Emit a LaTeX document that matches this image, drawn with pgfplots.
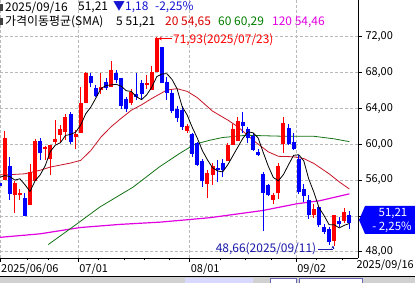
\documentclass[border=0pt]{standalone}
\usepackage{pgfplots}
\pgfplotsset{compat=1.18}
\usepackage{pgfplotstable}
\usepackage{fontspec}
\setmainfont{Noto Sans CJK KR}
\usetikzlibrary{arrows.meta}
\definecolor{cup}{RGB}{255,0,0}
\definecolor{cdn}{RGB}{0,0,255}
\definecolor{ma20}{RGB}{200,20,40}
\definecolor{ma60}{RGB}{20,115,20}
\definecolor{ma120}{RGB}{225,0,225}
\definecolor{gridc}{RGB}{185,185,185}
\definecolor{navy}{RGB}{25,25,170}
\definecolor{hblue}{RGB}{20,20,210}
\definecolor{hgreen}{RGB}{0,128,0}

\pgfplotstableread{
i o h l c
1 56.05 61.5 56.0 60.75
3 54.3 55.95 52.3 55.65
4 54.3 55.05 53.75 54.6
6 53.2 57.8 53.2 56.95
7 55.9 60.6 55.9 60.35
9 59.5 59.8 58.2 59.7
10 58.3 59.9 56.55 59.9
11 60.3 62.7 60.0 60.55
12 61.05 62.1 60.1 61.7
13 61.35 63.4 60.45 63.05
15 60.8 61.55 59.5 61.1
16 61.2 66.35 61.2 64.6
17 64.6 68.05 64.6 67.95
20 66.1 67.9 65.6 66.4
22 66.35 69.3 66.35 68.3
26 64.6 66.2 64.35 65.85
29 66.6 67.7 66.2 66.85
30 66.1 68.7 66.1 68.1
31 68.1 71.93 68.1 71.85
37 61.5 62.3 61.25 62.0
41 55.6 57.1 53.95 56.8
42 56.6 57.9 55.5 57.6
45 58.1 60.1 58.1 59.9
46 59.9 62.25 59.9 61.75
47 60.35 63.05 60.35 62.6
54 53.8 54.5 53.3 54.3
55 54.5 57.85 53.9 57.6
56 60.0 63.05 59.0 62.35
62 52.05 53.3 51.8 52.8
66 49.25 52.15 48.66 52.05
68 51.45 52.9 51.2 52.39
}\up

\pgfplotstableread{
i o h l c
0 55.7 55.9 55.0 55.3
2 57.6 58.6 53.8 54.4
5 54.0 54.55 52.0 52.0
8 60.4 60.65 58.2 59.0
14 63.35 63.6 60.0 60.3
18 67.6 67.9 66.4 66.8
19 66.25 66.6 65.3 65.35
21 67.0 67.35 66.0 66.25
23 67.9 68.3 66.85 67.15
24 67.35 67.35 63.9 64.25
25 65.0 65.3 63.6 63.9
27 65.65 67.95 64.9 65.3
28 66.85 67.15 64.9 65.6
32 70.8 70.9 66.8 66.8
33 66.95 67.5 64.9 65.75
34 65.75 66.05 63.45 63.7
35 63.9 64.25 62.5 62.9
36 63.8 64.25 61.55 61.95
38 61.1 61.25 58.6 58.9
39 60.15 60.25 57.55 57.65
40 58.15 58.4 55.2 55.95
43 57.4 58.2 55.8 57.1
44 57.85 58.3 56.3 57.1
48 62.5 63.6 61.2 62.0
49 61.65 61.95 60.1 60.65
50 60.9 61.2 59.25 59.4
51 59.1 59.5 58.65 58.85
52 56.7 56.9 50.3 54.55
53 55.4 55.6 54.2 54.3
57 61.85 62.3 59.9 60.05
58 60.25 61.25 59.3 59.5
59 58.4 58.75 54.4 54.65
60 55.0 55.6 53.5 54.2
61 53.8 54.3 51.7 52.05
63 53.0 53.15 50.75 50.95
64 50.8 51.1 50.0 50.2
65 50.55 50.8 48.8 49.05
67 51.4 51.85 50.8 51.05
69 52.05 52.6 50.55 51.21
}\dn

\pgfplotstableread{
i v
0 56.3
1 56.5
2 56.4
3 56.0
4 56.14
5 55.48
6 54.72
7 55.91
8 56.58
9 57.6
10 59.18
11 59.9
12 60.17
13 60.98
14 61.1
15 61.34
16 62.15
17 63.4
18 64.15
19 65.16
20 66.22
21 66.55
22 66.62
23 66.69
24 66.47
25 65.97
26 65.89
27 65.29
28 64.98
29 65.5
30 66.34
31 67.54
32 67.84
33 67.87
34 67.24
35 66.2
36 64.22
37 63.26
38 61.89
39 60.68
40 59.29
41 58.26
42 57.38
43 57.02
44 56.91
45 57.7
46 58.69
47 59.69
48 60.67
49 61.38
50 61.28
51 60.7
52 59.09
53 57.55
54 56.28
55 55.92
56 56.62
57 57.72
58 58.76
59 58.83
60 58.15
61 56.09
62 54.64
63 52.93
64 52.04
65 51.01
66 51.01
67 50.66
68 50.95
69 51.15
}\maA

\pgfplotstableread{
i v
0 56.6
2 56.6
5 56.7
8 57.1
10 57.45
14 57.9
16 58.2
18 59.3
20 60.8
22 61.95
24 62.9
26 63.8
28 64.4
30 65.1
33 66.05
35 66.2
37 65.9
39 65.2
42 63.7
45 62.7
47 61.95
50 60.45
53 59.15
55 58.65
58 58.6
60 58.4
62 57.85
65 56.7
67 55.8
69 55.0
}\maB

\pgfplotstableread{
i v
9.6 48.8
13.9 50.55
19.8 53.0
26.3 55.2
31.6 57.5
35.6 59.0
38.5 60.0
41.5 60.45
44 60.75
48.7 61.0
55.3 60.9
61.8 60.9
66 60.6
69 60.29
}\maC

\pgfplotstableread{
i v
0 49.6
8 50.0
15.9 50.7
23.7 51.05
31.6 51.3
35.6 51.5
41.5 51.8
51.9 52.6
58.6 53.35
63.2 53.7
69 54.46
}\maD

\begin{document}
\begin{tikzpicture}
\path[use as bounding box] (0,0) rectangle (415bp,283bp);
\fill[white] (0,0) rectangle (415bp,283bp);
\begin{axis}[
  at={(0bp,25bp)}, anchor=south west,
  width=358bp, height=258bp, scale only axis,
  xmin=0.08, xmax=70.7, ymin=47.3, ymax=76.1,
  axis x line*=bottom, axis y line*=right,
  axis line style={line width=0.6bp, black},
  ytick={48,56,60,64,68,72},
  extra y ticks={52}, extra y tick labels={},
  extra y tick style={grid=major},
  minor y tick num=1,
  xtick={0.08,15.5,37.5,58.5},
  xticklabels={2025/06/06,07/01,08/01,09/02},
  minor xtick={5.5,9.5,19.5,24.5,28.5,33.5,43.5,48.5,53.5,62.5,67.5},
  xmajorgrids, ymajorgrids,
  major grid style={gridc, dash pattern=on 3bp off 2bp, line width=0.6bp},
  tick align=outside, major tick length=4bp, minor tick length=2.5bp,
  tick style={black, line width=0.5bp},
  tick label style={font=\fontsize{11}{12}\selectfont},
  xticklabel style={anchor=north west, inner sep=1bp, yshift=-1bp},
  /pgf/number format/.cd, fixed, fixed zerofill, precision=2, use comma, assume math mode=true,
]
% magenta / green / red MAs behind candles
\addplot[ma120, line width=1.2bp, mark=none] table[x=i,y=v] {\maD};
\addplot[ma60, line width=0.8bp, mark=none] table[x=i,y=v] {\maC};
\addplot[ma20, line width=0.8bp, mark=none] table[x=i,y=v] {\maB};
% wicks
\addplot[draw=none, mark=none, error bars/.cd, y dir=plus, y explicit, error mark=none,
  error bar style={draw=cup, line width=1bp}] table[x=i, y=l, y error expr=\thisrow{h}-\thisrow{l}] {\up};
\addplot[draw=none, mark=none, error bars/.cd, y dir=plus, y explicit, error mark=none,
  error bar style={draw=cdn, line width=1bp}] table[x=i, y=l, y error expr=\thisrow{h}-\thisrow{l}] {\dn};
% bodies
\addplot[draw=none, mark=none, error bars/.cd, y dir=plus, y explicit, error mark=none,
  error bar style={draw=cup, line width=4bp}] table[x=i, y=o, y error expr=\thisrow{c}-\thisrow{o}] {\up};
\addplot[draw=none, mark=none, error bars/.cd, y dir=plus, y explicit, error mark=none,
  error bar style={draw=cdn, line width=4bp}] table[x=i, y=c, y error expr=\thisrow{o}-\thisrow{c}] {\dn};
% MA5
\addplot[black, line width=0.8bp, mark=none] table[x=i,y=v] {\maA};
\coordinate (hi) at (axis cs:31.3,71.8);
\coordinate (lo) at (axis cs:66,48.6);
\coordinate (lotext) at (axis cs:62.6,48.35);
\end{axis}
% high annotation
\draw[cup, line width=0.7bp, {Stealth[length=3.5bp,width=3.5bp]}-] (hi) -- ++(14bp,0)
  node[right, inner sep=0.5bp, text=cup, font=\fontsize{12}{13}\selectfont, yshift=-1bp]{71,93(2025/07/23)};
% low annotation
\node[anchor=east, inner sep=0.5bp, text=navy, font=\fontsize{12}{13}\selectfont] (lt) at (lotext) {48,66(2025/09/11)};
\draw[navy, line width=0.7bp] (lt.east) ++(1bp,-0.5bp) -- ++(15bp,0) coordinate (q);
\draw[navy, line width=0.7bp, -{Stealth[length=3bp,width=3bp]}] (q) -- ++(0,3.5bp);
% price box
\fill[cdn] (359bp,63bp) -- (365bp,77bp) -- (415bp,77bp) -- (415bp,49bp) -- (365bp,49bp) -- cycle;
\node[text=white, font=\fontsize{11.5}{12}\selectfont, inner sep=0] at (393bp,69.5bp) {51,21};
\node[text=white, font=\fontsize{11.5}{12}\selectfont, inner sep=0] at (392bp,56bp) {- 2,25\%};
% right date label
\node[anchor=north east, inner sep=1bp, font=\fontsize{11}{12}\selectfont] at (415bp,24bp) {2025/09/16};
% bottom strip
\fill[black!18] (0,0) rectangle (415bp,6bp);
\fill[blue!15] (185bp,0) rectangle (253bp,5bp);
\draw[blue!50!black!60, line width=0.5bp, fill=white] (270bp,0) rectangle (296bp,5bp);
\draw[blue!50!black!60, line width=0.5bp, fill=white] (299bp,0) rectangle (362bp,5bp);
\draw[black, line width=1bp] (0,6bp) -- (415bp,6bp);
% header
\begin{scope}[every node/.style={inner sep=0, anchor=west, font=\fontsize{12}{13}\selectfont}]
\fill[black!75] (0.5bp,272bp) rectangle (3bp,279bp);
\node at (5bp,275.5bp) {2025/09/16};
\node at (78bp,275.5bp) {51,21};
\node[text=hblue] at (113bp,275.5bp) {▼1,18};
\node[text=hblue] at (155bp,275.5bp) {-2,25\%};
\fill[black!75] (0.5bp,257.5bp) rectangle (3bp,264.5bp);
\node at (5bp,261bp) {가격이동평균(SMA)};
\node at (116bp,261bp) {5 51,21};
\node[text=cup!85!black] at (165bp,261bp) {20 54,65};
\node[text=hgreen] at (218bp,261bp) {60 60,29};
\node[text=ma120] at (272bp,261bp) {120 54,46};
\end{scope}
\end{tikzpicture}
\end{document}
